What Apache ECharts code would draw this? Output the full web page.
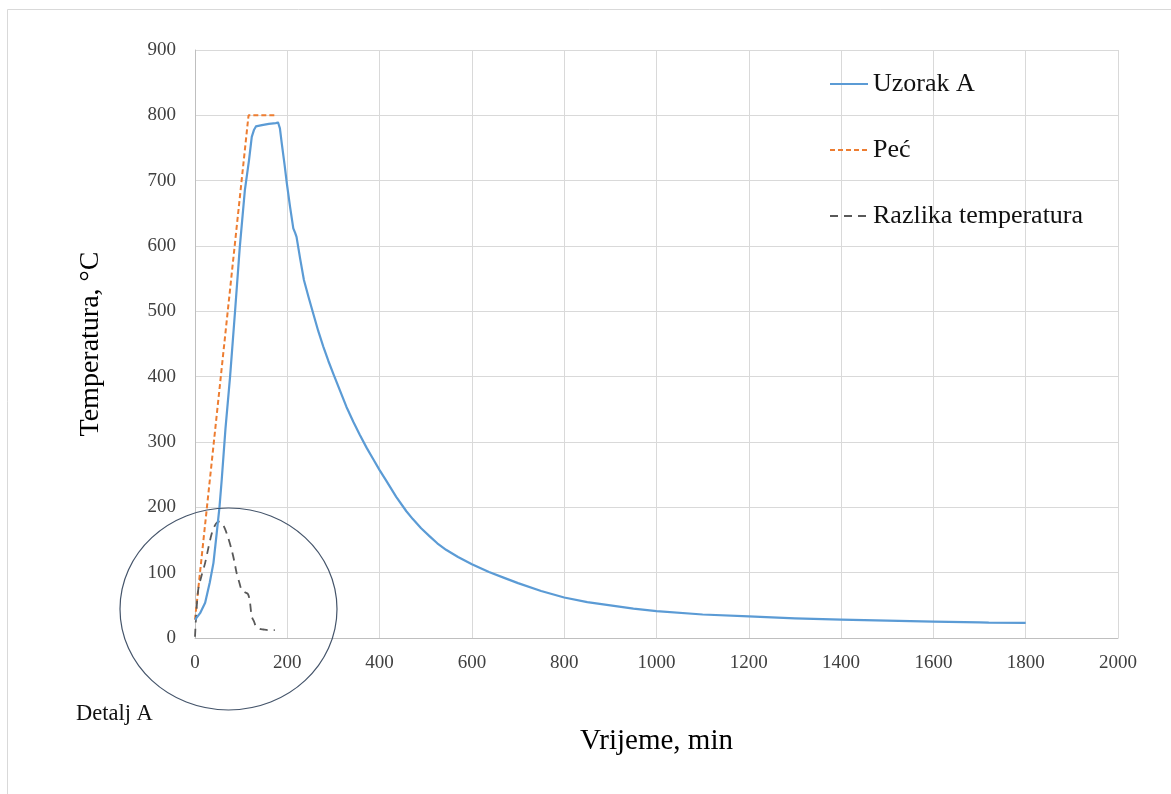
<!DOCTYPE html>
<html>
<head>
<meta charset="utf-8">
<script src="https://cdn.jsdelivr.net/npm/echarts@6/dist/echarts.min.js"></script>
<style>
html,body{margin:0;padding:0;background:#fff;}
#chart{width:1171px;height:794px;}
</style>
</head>
<body>
<div id="chart"></div>
<script>
// Uzorak A (sample temperature)
var sampleTime = [0,2,11,22,32,40,47,53,58,66,76,87,97,108,117,123,128,132,145,160,175,180,184,188,194,199,206,213,217,220,228,236,246,256,267,278,289,300,314,328,343,357,372,386,400,415,436,458,472,490,508,525,544,570,600,637,670,700,750,800,850,900,950,1000,1100,1200,1300,1400,1500,1600,1700,1720,1800];
var sampleTemp = [28,29,38,54,85,115,160,200,243,320,400,502,598,685,731,767,778,783,785,787,788,789,780,757,725,696,660,627,620,614,580,548,522,497,470,446,424,404,379,354,331,311,291,274,257,240,216,194,182,168,156,145,135,124,113,101,92,84,72,62,55,50,45,41,36,33,30,28,26.5,25,24,23.5,23];
// Peć (furnace)
var furnaceTime = [0,116,178];
var furnaceTemp = [28,800,800];
// Razlika temperatura (difference)
var diffTime = [0,2,7,14,22,29,36,43,48,53,58,65,72,79,85,90,96,101,108,115,119,123,128,132,140,148,160,173];
var diffTemp = [2,28,74,95,115,138,159,172,177,178,176,167,153,136,118,100,85,74,70,67,55,33,25,18,14,13,12,12];

var xTicks = {min:0, max:2000, interval:200};
var yTicks = {min:0, max:900, interval:100};

function pairs(a,b){return a.map(function(v,i){return [v,b[i]];});}

var serif = '"Liberation Serif","Times New Roman",serif';
var chart = echarts.init(document.getElementById('chart'));
chart.setOption({
  animation:false,
  backgroundColor:'#fff',
  grid:{left:195,right:53,top:50,bottom:156},
  legend:{
    orient:'vertical', left:824, top:66, itemGap:40,
    itemWidth:38, itemHeight:14,
    itemStyle:{opacity:0},
    textStyle:{fontFamily:serif,fontSize:26,color:'#111'},
    data:['Uzorak A','Peć','Razlika temperatura']
  },
  xAxis:{
    type:'value', min:xTicks.min, max:xTicks.max, interval:xTicks.interval,
    name:'Vrijeme, min', nameLocation:'middle', nameGap:89,
    nameTextStyle:{fontFamily:serif,fontSize:29,color:'#000'},
    axisLine:{show:true,lineStyle:{color:'#BFBFBF',width:1}},
    axisTick:{show:false},
    axisLabel:{fontFamily:serif,fontSize:19,color:'#404040',margin:16,formatter:function(v){return String(v);}},
    splitLine:{show:true,lineStyle:{color:'#D9D9D9',width:1}}
  },
  yAxis:{
    type:'value', min:yTicks.min, max:yTicks.max, interval:yTicks.interval,
    name:'Temperatura, °C', nameLocation:'middle', nameGap:90,
    nameTextStyle:{fontFamily:serif,fontSize:28,color:'#000'},
    axisLine:{show:true,lineStyle:{color:'#BFBFBF',width:1}},
    axisTick:{show:false},
    axisLabel:{fontFamily:serif,fontSize:19,color:'#404040',margin:19,formatter:function(v){return String(v);}},
    splitLine:{show:true,lineStyle:{color:'#D9D9D9',width:1}}
  },
  series:[
    {name:'Uzorak A',type:'line',data:pairs(sampleTime,sampleTemp),showSymbol:false,symbol:'none',smooth:false,
     lineStyle:{color:'#5B9BD5',width:2.2,join:'round'},itemStyle:{color:'#5B9BD5'},z:3},
    {name:'Peć',type:'line',data:pairs(furnaceTime,furnaceTemp),showSymbol:false,symbol:'none',
     lineStyle:{color:'#ED7D31',width:2,type:[5,3]},itemStyle:{color:'#ED7D31'},z:2},
    {name:'Razlika temperatura',type:'line',data:pairs(diffTime,diffTemp),showSymbol:false,symbol:'none',smooth:0.3,
     lineStyle:{color:'#595959',width:1.8,type:[8,6]},itemStyle:{color:'#595959'},z:2}
  ],
  graphic:[
    {type:'polyline',shape:{points:[[7.5,794],[7.5,9.5],[1171,9.5]]},style:{stroke:'#D9D9D9',lineWidth:1,fill:null},silent:true},
    {type:'ellipse',shape:{cx:228.5,cy:609,rx:108.5,ry:101},style:{stroke:'#44546A',lineWidth:1.2,fill:null},silent:true,z:10},
    {type:'text',left:76,top:703,style:{text:'Detalj A',font:'22.5px '+serif,fill:'#111'},silent:true}
  ]
});
</script>
</body>
</html>
